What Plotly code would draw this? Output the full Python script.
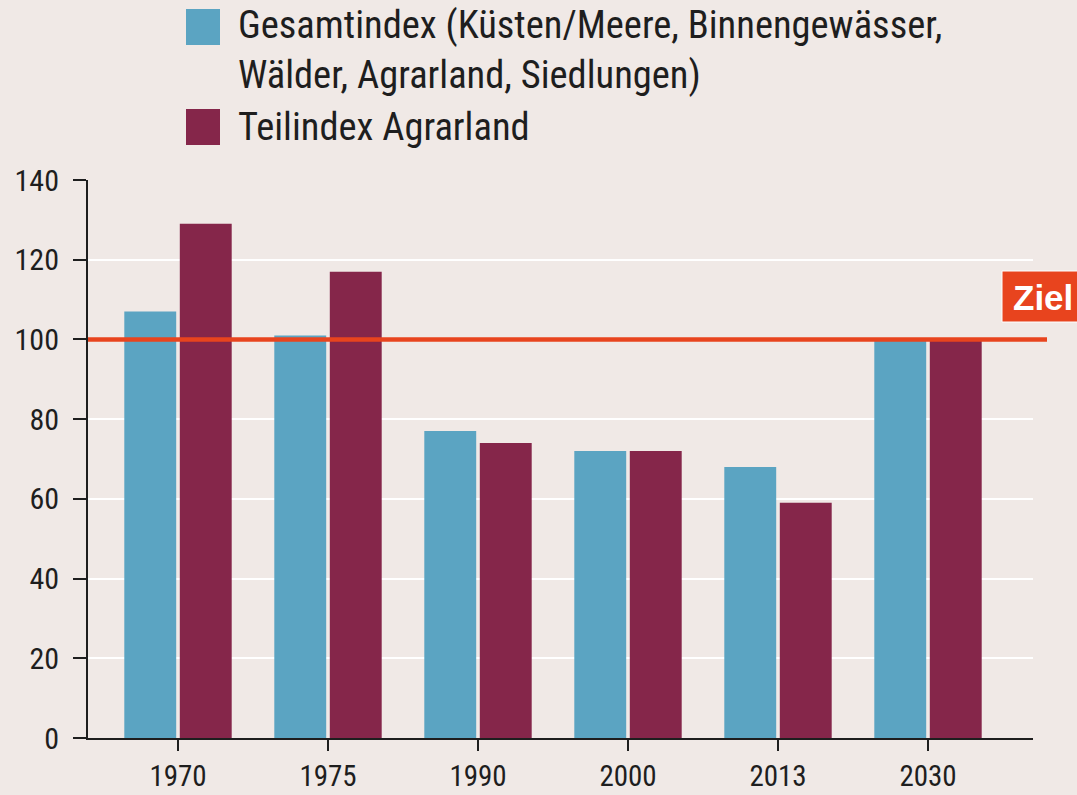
import plotly.graph_objects as go

years = ["1970", "1975", "1990", "2000", "2013", "2030"]
gesamt = [107, 101, 77, 72, 68, 100]
agrar = [129, 117, 74, 72, 59, 100]
series_names = ["Gesamtindex (Küsten/Meere, Binnengewässer,<br>Wälder, Agrarland, Siedlungen)",
                "Teilindex Agrarland"]
ytick_vals = [0, 20, 40, 60, 80, 100, 120, 140]
target_value = 100
target_label = "Ziel"

BG = "#F0E9E6"
BLUE = "#5BA4C2"
RED = "#85264A"
ORANGE = "#E8441E"
FONT = "Liberation Sans Narrow, Arial Narrow, Roboto Condensed, sans-serif"

# plot area in pixels (for paper-coordinate placement of decorations)
L, R, T, B, W, H = 88, 44, 180, 57, 1077, 795
PW, PH = W - L - R, H - T - B


def px_x(p):
    return (p - L) / PW


def px_y(p):
    return (H - B - p) / PH


fig = go.Figure()
fig.add_trace(go.Bar(x=years, y=gesamt, name=series_names[0], marker_color=BLUE,
                     marker_line_width=0, showlegend=False))
fig.add_trace(go.Bar(x=years, y=agrar, name=series_names[1], marker_color=RED,
                     marker_line_width=0, showlegend=False))

# target line
fig.add_shape(type="line", xref="paper", yref="y", x0=0, x1=px_x(1047),
              y0=target_value, y1=target_value,
              line=dict(color=ORANGE, width=4.5), layer="above")
# target label box
fig.add_shape(type="rect", xref="paper", yref="paper", x0=px_x(1002), x1=px_x(1090),
              y0=px_y(322), y1=px_y(271), fillcolor=ORANGE,
              line=dict(color="white", width=1), layer="above")
fig.add_annotation(xref="paper", yref="paper", x=px_x(1011), y=px_y(297),
                   xanchor="left", yanchor="middle",
                   text="<b>" + target_label + "</b>", showarrow=False,
                   font=dict(family="Liberation Sans, Arial, sans-serif", size=35, color="white"))

# manual legend
legend_rows = [(series_names[0], BLUE, 27, 50), (series_names[1], RED, 127, 127)]
for name, col, sq_y, txt_y in legend_rows:
    fig.add_shape(type="rect", xref="paper", yref="paper",
                  x0=px_x(186), x1=px_x(220),
                  y0=px_y(sq_y + 18), y1=px_y(sq_y - 18),
                  fillcolor=col, line_width=0)
    fig.add_annotation(xref="paper", yref="paper", x=px_x(236),
                       y=px_y(txt_y), xanchor="left", yanchor="middle",
                       text=name, showarrow=False, align="left",
                       font=dict(family=FONT, size=38.5, color="#1E1E1E"))

fig.update_layout(
    width=W, height=H,
    paper_bgcolor=BG, plot_bgcolor=BG,
    margin=dict(l=L, r=R, t=T, b=B, autoexpand=False),
    barmode="group", bargap=0.26, bargroupgap=0.065,
    font=dict(family=FONT, size=30, color="#1E1E1E"),
)
fig.update_xaxes(type="category", range=[-0.6, 5.7], showgrid=False, automargin=False,
                 showline=True, linecolor="#1E1E1E", linewidth=2,
                 ticks="outside", ticklen=11, tickwidth=2, tickcolor="#1E1E1E",
                 tickfont=dict(size=29), ticklabelstandoff=0)
fig.update_yaxes(range=[0, 140], tickvals=ytick_vals, showgrid=True, automargin=False,
                 gridcolor="white", gridwidth=2, zeroline=False,
                 showline=True, linecolor="#1E1E1E", linewidth=2,
                 ticks="outside", ticklen=13, tickwidth=2, tickcolor="#1E1E1E",
                 tickfont=dict(size=30), ticklabelstandoff=8, layer="above traces")

fig.write_html("out.html", config={"displayModeBar": False},
               post_script="document.body.style.margin='0';")
